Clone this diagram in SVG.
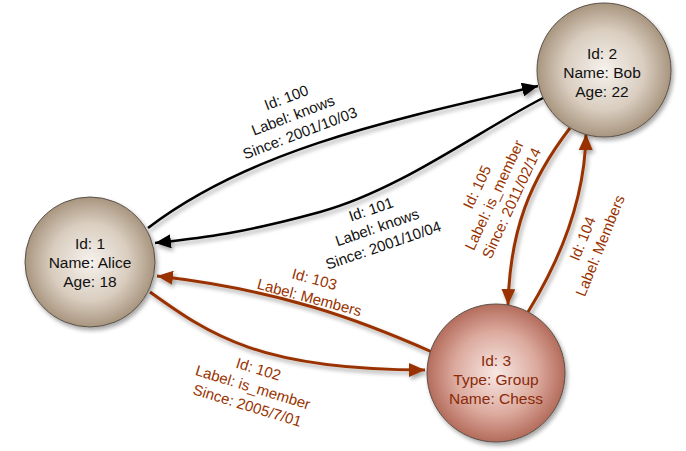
<svg xmlns="http://www.w3.org/2000/svg" width="686" height="451" viewBox="0 0 686 451">
<defs>
<radialGradient id="gTan" cx="50%" cy="50%" r="50%">
<stop offset="0" stop-color="#f6f2ed"/>
<stop offset="0.6" stop-color="#d9cdbf"/>
<stop offset="1" stop-color="#a8957f"/>
</radialGradient>
<radialGradient id="gRed" cx="50%" cy="50%" r="50%">
<stop offset="0" stop-color="#f8e8e4"/>
<stop offset="0.6" stop-color="#dcaa9e"/>
<stop offset="1" stop-color="#b46c5c"/>
</radialGradient>
<filter id="sh" x="-20%" y="-20%" width="150%" height="150%">
<feDropShadow dx="2" dy="3" stdDeviation="2" flood-color="#000" flood-opacity="0.35"/>
</filter>
<marker id="aK" markerUnits="userSpaceOnUse" markerWidth="18" markerHeight="14" refX="16" refY="7" orient="auto">
<path d="M0,0 L16,7 L0,14 Z" fill="#000"/>
</marker>
<marker id="aR" markerUnits="userSpaceOnUse" markerWidth="18" markerHeight="14" refX="16" refY="7" orient="auto">
<path d="M0,0 L16,7 L0,14 Z" fill="#993300"/>
</marker>
</defs>
<style>
.nd{stroke:#5a5048;stroke-width:1}
.nt{font-family:"Liberation Sans",Arial,sans-serif;font-size:15.5px;fill:#111;text-anchor:middle;dominant-baseline:central}
.ntr{fill:#8a2a0a}
.ek{fill:none;stroke:#000;stroke-width:2.5;marker-end:url(#aK)}
.er{fill:none;stroke:#993300;stroke-width:3;marker-end:url(#aR)}
.lk{font-family:"Liberation Sans",Arial,sans-serif;font-size:15px;fill:#111;text-anchor:middle;dominant-baseline:central}
.lr{font-family:"Liberation Sans",Arial,sans-serif;font-size:15px;fill:#993300;text-anchor:middle;dominant-baseline:central}
</style>
<g id="connectors" filter="url(#sh)">
<path id="e100" class="ek" d="M148,228 C250,150 390,120 538,86"/>
<path id="e101" class="ek" d="M543,98 C480,130 400,190 320,212 S200,238 155,243"/>
<path id="e103" class="er" d="M432,352 C360,320 280,290 157,276"/>
<path id="e102" class="er" d="M150,292 C210,335 260,370 425,370"/>
<path id="e105" class="er" d="M570,128 C530,180 510,230 508,305"/>
<path id="e104" class="er" d="M528,312 C560,260 585,200 586,134"/>
</g>
<g id="edge-labels">
<g id="l100" transform="translate(293,115) rotate(-21)">
<text class="lk" x="0" y="-19">Id: 100</text>
<text class="lk" x="0" y="0">Label: knows</text>
<text class="lk" x="0" y="19">Since: 2001/10/03</text>
</g>
<g id="l101" transform="translate(377,227) rotate(-19)">
<text class="lk" x="0" y="-19">Id: 101</text>
<text class="lk" x="0" y="0">Label: knows</text>
<text class="lk" x="0" y="19">Since: 2001/10/04</text>
</g>
<g id="l105" transform="translate(494,195) rotate(-65)">
<text class="lr" x="0" y="-19">Id: 105</text>
<text class="lr" x="0" y="0">Label: is_member</text>
<text class="lr" x="0" y="19">Since: 2011/02/14</text>
</g>
<g id="l104" transform="translate(591,242) rotate(-68)">
<text class="lr" x="0" y="-9.5">Id: 104</text>
<text class="lr" x="0" y="9.5">Label: Members</text>
</g>
<g id="l103" transform="translate(312,288) rotate(15)">
<text class="lr" x="0" y="-9.5">Id: 103</text>
<text class="lr" x="0" y="9.5">Label: Members</text>
</g>
<g id="l102" transform="translate(253,387) rotate(17)">
<text class="lr" x="0" y="-19">Id: 102</text>
<text class="lr" x="0" y="0">Label: is_member</text>
<text class="lr" x="0" y="19">Since: 2005/7/01</text>
</g>
</g>
<g id="alice">
<circle class="nd" cx="90" cy="262" r="65" fill="url(#gTan)" filter="url(#sh)"/>
<text class="nt" x="90" y="243">Id: 1</text>
<text class="nt" x="90" y="262">Name: Alice</text>
<text class="nt" x="90" y="281">Age: 18</text>
</g>
<g id="bob">
<circle class="nd" cx="604" cy="70" r="67" fill="url(#gTan)" filter="url(#sh)"/>
<text class="nt" x="602" y="53">Id: 2</text>
<text class="nt" x="602" y="72">Name: Bob</text>
<text class="nt" x="602" y="91">Age: 22</text>
</g>
<g id="chess">
<circle class="nd" cx="496" cy="373" r="69" fill="url(#gRed)" filter="url(#sh)"/>
<text class="nt ntr" x="496" y="360">Id: 3</text>
<text class="nt ntr" x="496" y="379">Type: Group</text>
<text class="nt ntr" x="496" y="398">Name: Chess</text>
</g>
</svg>
